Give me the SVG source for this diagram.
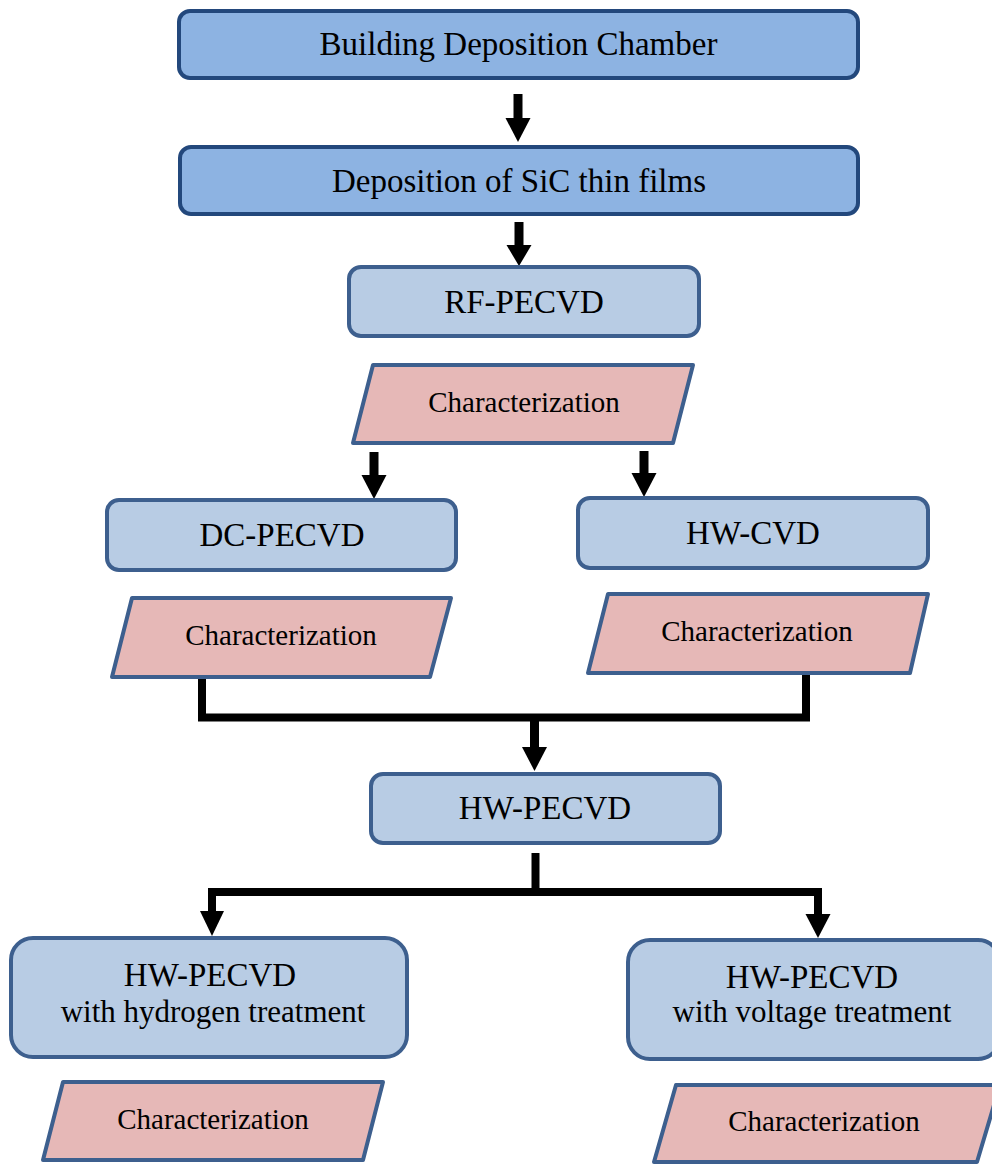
<svg xmlns="http://www.w3.org/2000/svg" width="992" height="1164" viewBox="0 0 992 1164">
<style>
.dark{fill:#8db3e2;stroke:#23487c;stroke-width:4}
.light{fill:#b8cce4;stroke:#3d5f8e;stroke-width:4}
.pink{fill:#e6b8b7;stroke:#3d5f8e;stroke-width:4;stroke-linejoin:round}
.t{font-family:"Liberation Serif","Times New Roman",serif;font-size:33px;fill:#000;text-anchor:middle}
.s{font-family:"Liberation Serif","Times New Roman",serif;font-size:31px;fill:#000;text-anchor:middle}
.c{font-family:"Liberation Serif","Times New Roman",serif;font-size:29px;fill:#000;text-anchor:middle}
.ln{fill:none;stroke:#000;stroke-width:9;stroke-linejoin:miter;stroke-linecap:butt}
.hd{fill:#000}
</style>
<rect width="992" height="1164" fill="#fff"/>
<g id="connectors">
<line class="ln" x1="518" y1="94" x2="518" y2="120"/>
<polygon class="hd" points="505.5,118 530.5,118 518,142"/>
<line class="ln" x1="519" y1="222" x2="519" y2="247"/>
<polygon class="hd" points="506.5,245 531.5,245 519,266"/>
<line class="ln" x1="374" y1="452" x2="374" y2="477"/>
<polygon class="hd" points="361.5,475 386.5,475 374,499"/>
<line class="ln" x1="644" y1="451" x2="644" y2="475"/>
<polygon class="hd" points="631.5,473 656.5,473 644,497"/>
<polyline class="ln" style="stroke-width:8" points="202,678 202,717.5 806,717.5 806,674"/>
<line class="ln" x1="534.5" y1="717" x2="534.5" y2="749"/>
<polygon class="hd" points="522,747 547,747 534.5,771"/>
<line class="ln" style="stroke-width:8" x1="535.5" y1="853" x2="535.5" y2="892"/>
<polyline class="ln" style="stroke-width:8" points="212,913 212,892 818,892 818,916"/>
<polygon class="hd" points="200,911 224,911 212,936"/>
<polygon class="hd" points="805.5,914 830.5,914 818,938"/>
</g>
<g id="n1"><rect class="dark" x="179" y="11" width="679" height="67" rx="11"/><text class="t" x="518.5" y="55">Building Deposition Chamber</text></g>
<g id="n2"><rect class="dark" x="180" y="147" width="678" height="67" rx="11"/><text class="t" x="519" y="192">Deposition of SiC thin films</text></g>
<g id="n3"><rect class="light" x="349" y="267" width="350" height="69" rx="12"/><text class="t" x="524" y="313">RF-PECVD</text></g>
<g id="c1"><polygon class="pink" points="373,365 693,365 673,443 353,443"/><text class="c" x="524" y="412">Characterization</text></g>
<g id="n4"><rect class="light" x="107" y="500" width="349" height="70" rx="12"/><text class="t" x="282" y="546">DC-PECVD</text></g>
<g id="n5"><rect class="light" x="578" y="498" width="350" height="70" rx="12"/><text class="t" x="753" y="544">HW-CVD</text></g>
<g id="c2"><polygon class="pink" points="132,598 451,598 430,677 112,677"/><text class="c" x="281" y="645">Characterization</text></g>
<g id="c3"><polygon class="pink" points="608,594 928,594 910,673 588,673"/><text class="c" x="757" y="641">Characterization</text></g>
<g id="n6"><rect class="light" x="371" y="774" width="349" height="69" rx="12"/><text class="t" x="545" y="819">HW-PECVD</text></g>
<g id="n7"><rect class="light" x="11" y="938" width="396" height="119" rx="22"/><text class="t" x="210" y="986">HW-PECVD</text><text class="s" x="213" y="1022">with hydrogen treatment</text></g>
<g id="n8"><rect class="light" x="628" y="940" width="372" height="119" rx="22"/><text class="t" x="812" y="988">HW-PECVD</text><text class="s" x="812" y="1022">with voltage treatment</text></g>
<g id="c4"><polygon class="pink" points="63,1082 383,1082 363,1160 43,1160"/><text class="c" x="213" y="1129">Characterization</text></g>
<g id="c5"><polygon class="pink" points="676,1085 1000,1085 977,1162 654,1162"/><text class="c" x="824" y="1131">Characterization</text></g>
</svg>
